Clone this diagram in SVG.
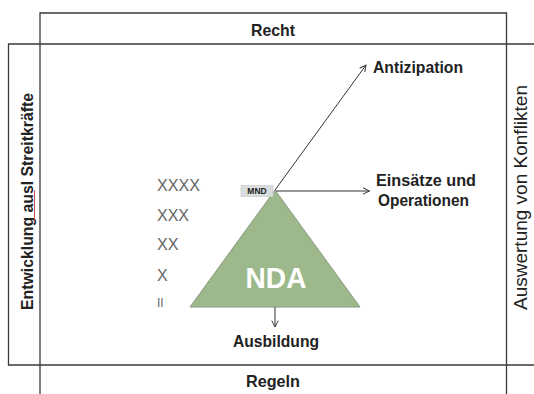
<svg xmlns="http://www.w3.org/2000/svg" width="534" height="394" viewBox="0 0 534 394">
<defs>
<style>
.frame{fill:none;stroke:#3a3a3e;stroke-width:1.3}
.lbl{font-family:"Liberation Sans",Arial,sans-serif;font-weight:bold;font-size:16.5px;fill:#222}
.lvl{font-family:"Liberation Sans",Arial,sans-serif;font-size:16px;fill:#666}
.conn{fill:none;stroke:#333;stroke-width:1}
</style>
<marker id="ah" viewBox="0 0 10 10" refX="9" refY="5" markerWidth="8" markerHeight="8" markerUnits="userSpaceOnUse" orient="auto">
<path d="M1,1 L9,5 L1,9" fill="none" stroke="#333" stroke-width="1.2"/>
</marker>
</defs>
<rect width="534" height="394" fill="#ffffff"/>
<g id="frame">
<path class="frame" d="M40,394 V13 H506.5 V394"/>
<path class="frame" d="M534,44 H8.5 V365 H534"/>
</g>
<g id="recht"><text class="lbl" x="273" y="35.5" text-anchor="middle" textLength="44" lengthAdjust="spacingAndGlyphs">Recht</text></g>
<g id="regeln"><text class="lbl" x="273" y="387" text-anchor="middle" textLength="54" lengthAdjust="spacingAndGlyphs">Regeln</text></g>
<g id="entwicklung">
<text class="lbl" style="font-size:17px" transform="translate(33,201.5) rotate(-90)" text-anchor="middle" textLength="217" lengthAdjust="spacingAndGlyphs">Entwicklung ausl Streitkräfte</text>
<line x1="34.5" y1="190" x2="34.5" y2="222" stroke="#c0404a" stroke-width="0.9"/>
</g>
<g id="auswertung">
<text class="lbl" style="font-weight:normal;font-size:18px" transform="translate(527,197.5) rotate(-90)" text-anchor="middle" textLength="225" lengthAdjust="spacingAndGlyphs">Auswertung von Konflikten</text>
</g>
<g id="levels">
<text class="lvl" x="157" y="190.5" textLength="43" lengthAdjust="spacingAndGlyphs">XXXX</text>
<text class="lvl" x="157" y="221" textLength="32" lengthAdjust="spacingAndGlyphs">XXX</text>
<text class="lvl" x="157" y="250" textLength="21.5" lengthAdjust="spacingAndGlyphs">XX</text>
<text class="lvl" x="157" y="281">X</text>
<text class="lvl" style="font-size:12px" x="157" y="307">II</text>
</g>
<g id="nda">
<polygon points="275,190 190,307 360,307" fill="#9db98b" stroke="#8a9a82" stroke-width="1"/>
<text x="276" y="288" text-anchor="middle" font-family="'Liberation Sans',Arial,sans-serif" font-weight="bold" font-size="29px" fill="#ffffff" textLength="61" lengthAdjust="spacingAndGlyphs">NDA</text>
</g>
<g id="mnd">
<rect x="241" y="185.5" width="32" height="11" fill="#d8dddd" stroke="#c4c8c8" stroke-width="0.6"/>
<text x="257" y="194.2" text-anchor="middle" font-family="'Liberation Sans',Arial,sans-serif" font-weight="bold" font-size="8.5px" fill="#222">MND</text>
</g>
<g id="connectors">
<line class="conn" x1="275" y1="190" x2="366" y2="65" marker-end="url(#ah)"/>
<line class="conn" x1="276" y1="191" x2="369.5" y2="191" marker-end="url(#ah)"/>
<line class="conn" x1="275" y1="307" x2="275" y2="327" marker-end="url(#ah)"/>
</g>
<g id="antizipation"><text class="lbl" x="373" y="73" textLength="90" lengthAdjust="spacingAndGlyphs">Antizipation</text></g>
<g id="einsaetze">
<text class="lbl" x="376" y="186" textLength="100" lengthAdjust="spacingAndGlyphs">Einsätze und</text>
<text class="lbl" x="378" y="206" textLength="91" lengthAdjust="spacingAndGlyphs">Operationen</text>
</g>
<g id="ausbildung"><text class="lbl" x="276" y="347" text-anchor="middle" textLength="86" lengthAdjust="spacingAndGlyphs">Ausbildung</text></g>
</svg>
